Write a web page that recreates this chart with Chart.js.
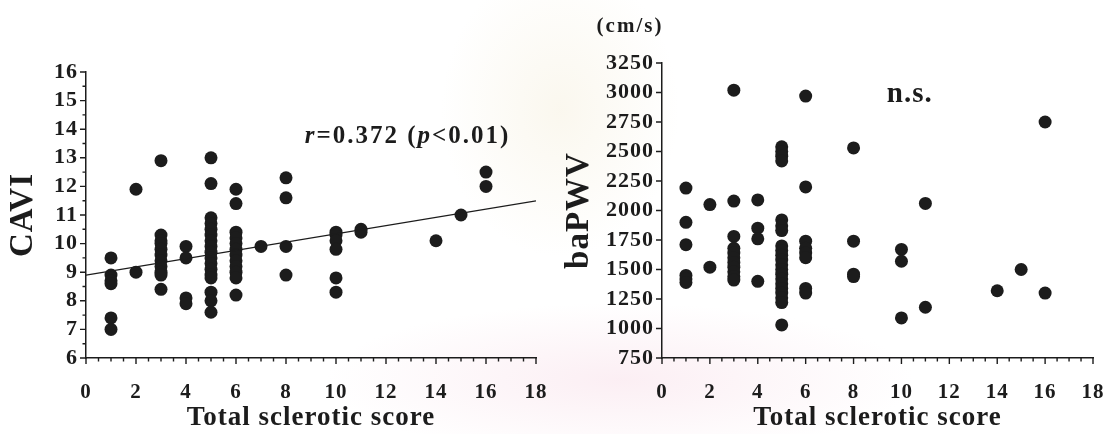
<!DOCTYPE html>
<html>
<head>
<meta charset="utf-8">
<title>CAVI and baPWV vs total sclerotic score</title>
<script src="https://cdn.jsdelivr.net/npm/chart.js@4.4.1/dist/chart.umd.min.js"></script>
<style>
  html, body { margin: 0; padding: 0; }
  body {
    width: 1119px; height: 434px; position: relative; overflow: hidden;
    background:
      radial-gradient(ellipse 420px 110px at 620px 380px, rgba(248, 222, 232, 0.5), rgba(255, 255, 255, 0) 70%),
      radial-gradient(ellipse 170px 210px at 560px 110px, rgba(240, 230, 200, 0.3), rgba(255, 255, 255, 0) 70%),
      #fff;
  }
  canvas { position: absolute; top: 0; }
  #caviChart { left: 0; }
  #pwvChart { left: 560px; }
</style>
</head>
<body>
<canvas id="caviChart" width="560" height="434"></canvas>
<canvas id="pwvChart" width="559" height="434"></canvas>
<script>
// CAVI, grouped by total sclerotic score
const caviScores = [1, 2, 3, 4, 5, 6, 7, 8, 10, 11, 14, 15, 16];
const caviValues = [
  [9.5, 8.9, 8.7, 8.6, 7.4, 7.0],
  [11.9, 9.0],
  [12.9, 10.3, 10.1, 10.0, 9.8, 9.6, 9.4, 9.2, 9.0, 8.9, 8.4],
  [9.9, 9.5, 8.1, 7.9],
  [13.0, 12.1, 10.9, 10.7, 10.5, 10.3, 10.1, 9.9, 9.7, 9.5, 9.3, 9.1, 8.9, 8.8, 8.3, 8.0, 7.6],
  [11.9, 11.4, 10.4, 10.2, 10.0, 9.8, 9.6, 9.4, 9.2, 9.0, 8.8, 8.2],
  [9.9],
  [12.3, 11.6, 9.9, 8.9],
  [10.4, 10.3, 10.1, 9.8, 8.8, 8.3],
  [10.5, 10.4],
  [10.1],
  [11.0],
  [12.5, 12.0]
];
// regression line for CAVI
const fitIntercept = 8.9;
const fitSlope = 0.144;

// baPWV (cm/s), grouped by total sclerotic score
const pwvScores = [1, 2, 3, 4, 5, 6, 8, 10, 11, 14, 15, 16];
const pwvValues = [
  [2190, 1900, 1710, 1450, 1420, 1390],
  [2050, 1520],
  [3020, 2080, 1780, 1680, 1640, 1600, 1560, 1520, 1480, 1440, 1410],
  [2090, 1850, 1760, 1400],
  [2540, 2500, 2460, 2420, 1920, 1870, 1830, 1700, 1660, 1620, 1580, 1540, 1500, 1460, 1420, 1380, 1340, 1300, 1260, 1220, 1030],
  [2970, 2200, 1740, 1680, 1640, 1600, 1340, 1300],
  [2530, 1740, 1460, 1440],
  [1670, 1570, 1090],
  [2060, 1180],
  [1320],
  [1500],
  [2750, 1300]
];

const xTitle = 'Total sclerotic score';
const ink = '#1c1c1c';

Chart.defaults.font.family = '"Liberation Serif", "Times New Roman", serif';
Chart.defaults.font.weight = 'bold';
Chart.defaults.color = ink;

function toPoints(scores, values) {
  return scores.flatMap((s, i) => values[i].map(v => ({ x: s, y: v })));
}

// a little extra letter spacing for all chart text
const spacing = {
  id: 'spacing',
  beforeUpdate(chart) { chart.ctx.letterSpacing = '1px'; },
  beforeDraw(chart) { chart.ctx.letterSpacing = '1px'; }
};

// outward major/minor tick marks on both axes
const axisTicks = {
  id: 'axisTicks',
  afterDraw(chart, args, o) {
    const { ctx, scales: { x, y } } = chart;
    const isMajor = (v, step) => Math.abs(v / step - Math.round(v / step)) < 1e-6;
    ctx.save();
    ctx.strokeStyle = ink;
    ctx.lineWidth = 1.4;
    ctx.beginPath();
    for (let v = x.min; v <= x.max + 1e-6; v += o.xMinor) {
      const px = x.getPixelForValue(v);
      const len = isMajor(v, o.xMajor) ? 6 : 3.5;
      ctx.moveTo(px, x.top);
      ctx.lineTo(px, x.top + len);
    }
    for (let v = y.min; v <= y.max + 1e-6; v += o.yMinor) {
      const py = y.getPixelForValue(v);
      const len = isMajor(v, o.yMajor) ? 6 : 3.5;
      ctx.moveTo(y.right, py);
      ctx.lineTo(y.right - len, py);
    }
    ctx.stroke();
    ctx.restore();
  }
};

// text notes made of plain/italic runs
const notes = {
  id: 'notes',
  afterDatasetsDraw(chart, args, o) {
    const { ctx, scales: { x, y } } = chart;
    (o.items || []).forEach(item => {
      ctx.save();
      ctx.letterSpacing = item.spacing || '0px';
      ctx.fillStyle = ink;
      ctx.textBaseline = 'middle';
      ctx.textAlign = 'left';
      const fontOf = p => (p.italic ? 'italic ' : '') + 'bold ' + item.size + 'px "Liberation Serif", serif';
      const widths = item.parts.map(p => { ctx.font = fontOf(p); return ctx.measureText(p.text).width; });
      const total = widths.reduce((a, b) => a + b, 0);
      const px = item.axisDx !== undefined ? y.right + item.axisDx : x.getPixelForValue(item.x);
      const py = item.axisDy !== undefined ? y.top + item.axisDy : y.getPixelForValue(item.y);
      let cx = item.align === 'center' ? px - total / 2 : px;
      item.parts.forEach((p, i) => {
        ctx.font = fontOf(p);
        ctx.fillText(p.text, cx, py);
        cx += widths[i];
      });
      ctx.restore();
    });
  }
};

function xScale() {
  return {
    type: 'linear', min: 0, max: 18,
    afterFit(scale) { scale.height = 76; },
    // invisible tick marks only push the labels down; visible ones come from axisTicks
    grid: { drawOnChartArea: false, drawTicks: true, tickLength: 20, tickColor: 'rgba(0,0,0,0)' },
    border: { color: ink, width: 1.5 },
    ticks: { stepSize: 2, padding: 2, maxRotation: 0, autoSkip: false, font: { size: 21 } },
    title: { display: true, text: xTitle, font: { size: 27 }, padding: { top: 0, bottom: 0 } }
  };
}

function scatterSet(points) {
  return {
    type: 'scatter',
    data: points,
    pointRadius: 6.5,
    pointBackgroundColor: ink,
    pointBorderWidth: 0
  };
}

new Chart(document.getElementById('caviChart'), {
  type: 'scatter',
  data: {
    datasets: [
      {
        type: 'line',
        data: [0, 18].map(s => ({ x: s, y: fitIntercept + fitSlope * s })),
        borderColor: ink,
        borderWidth: 1.3,
        pointRadius: 0
      },
      scatterSet(toPoints(caviScores, caviValues))
    ]
  },
  options: {
    responsive: false,
    animation: false,
    events: [],
    layout: { padding: { left: 0, right: 24, top: 72, bottom: 0 } },
    plugins: {
      legend: { display: false },
      tooltip: { enabled: false },
      axisTicks: { xMinor: 0.5, xMajor: 2, yMinor: 0.5, yMajor: 1 },
      notes: {
        items: [{
          x: 8.75, y: 13.75, size: 25, spacing: '2px',
          parts: [
            { text: 'r', italic: true },
            { text: '=0.372 (' },
            { text: 'p', italic: true },
            { text: '<0.01)' }
          ]
        }]
      }
    },
    scales: {
      x: xScale(),
      y: {
        type: 'linear', min: 6, max: 16,
        afterFit(scale) { scale.width = 86; },
        grid: { drawOnChartArea: false, drawTicks: false },
        border: { color: ink, width: 1.5 },
        ticks: { stepSize: 1, padding: 8, autoSkip: false, font: { size: 22 } },
        title: { display: true, text: 'CAVI', font: { size: 33 }, padding: { top: 4, bottom: 0 } }
      }
    }
  },
  plugins: [spacing, axisTicks, notes]
});

new Chart(document.getElementById('pwvChart'), {
  type: 'scatter',
  data: {
    datasets: [scatterSet(toPoints(pwvScores, pwvValues))]
  },
  options: {
    responsive: false,
    animation: false,
    events: [],
    layout: { padding: { left: 0, right: 26, top: 63, bottom: 0 } },
    plugins: {
      legend: { display: false },
      tooltip: { enabled: false },
      axisTicks: { xMinor: 0.5, xMajor: 2, yMinor: 250, yMajor: 250 },
      notes: {
        items: [
          { x: 10.35, y: 2985, size: 29, spacing: '1px', align: 'center', parts: [{ text: 'n.s.' }] },
          { axisDx: -32, axisDy: -36, size: 21, spacing: '2px', align: 'center', parts: [{ text: '(cm/s)' }] }
        ]
      }
    },
    scales: {
      x: xScale(),
      y: {
        type: 'linear', min: 750, max: 3250,
        afterFit(scale) { scale.width = 102; },
        grid: { drawOnChartArea: false, drawTicks: false },
        border: { color: ink, width: 1.5 },
        ticks: { stepSize: 250, padding: 8, autoSkip: false, font: { size: 22 }, callback: v => String(v) },
        title: { display: true, text: 'baPWV', font: { size: 33 }, padding: { top: 0, bottom: 0 } }
      }
    }
  },
  plugins: [spacing, axisTicks, notes]
});
</script>
</body>
</html>
